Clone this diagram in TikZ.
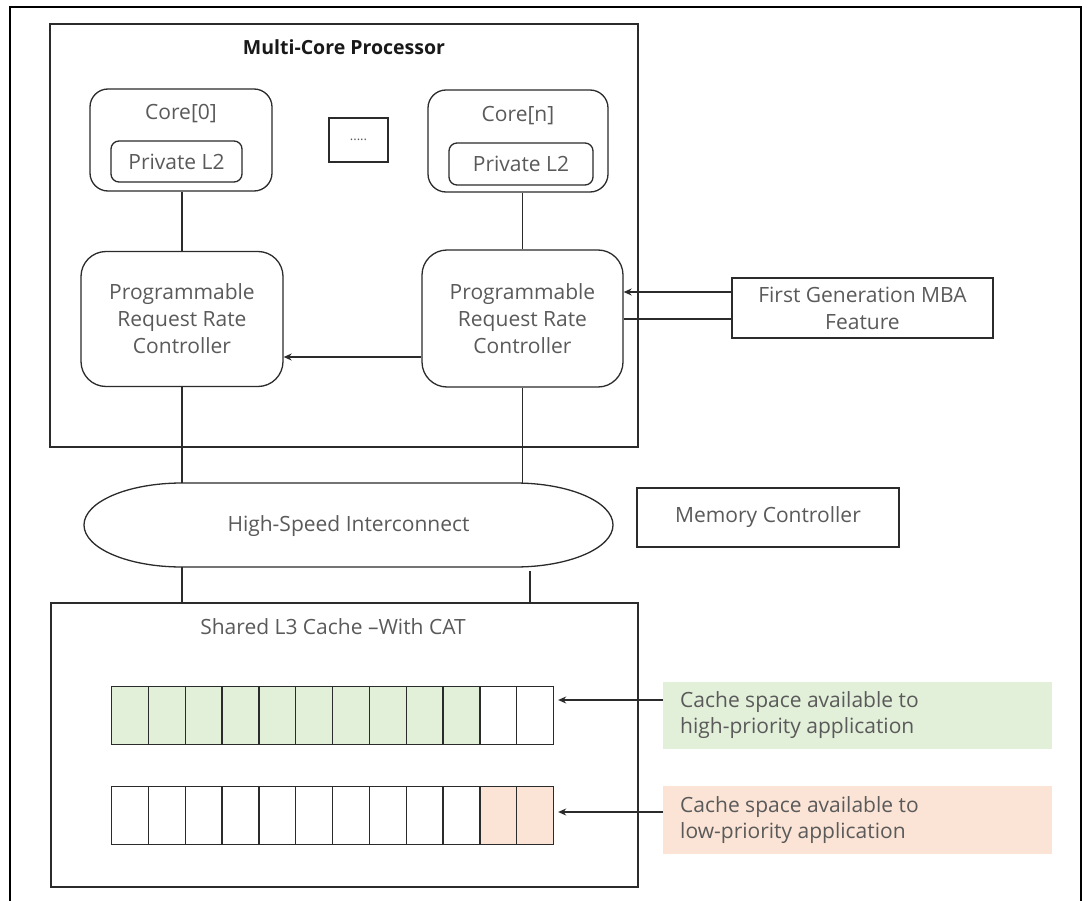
\documentclass[tikz,border=0pt]{standalone}
\usepackage{fontspec}
\setmainfont{Open Sans}
\usetikzlibrary{arrows.meta,calc}
\definecolor{txt}{HTML}{5A5A5A}
\definecolor{ln}{HTML}{2B2B2B}
\definecolor{gfill}{HTML}{E2EFD9}
\definecolor{ofill}{HTML}{FBE4D5}
\begin{document}
\begin{tikzpicture}[x=1pt,y=-1pt,
  box/.style={draw=ln,line width=1.3pt,inner sep=0pt},
  rbox/.style={box,rounded corners=#1},
  rbox/.default=18pt,
  lbl/.style={text=txt,font=\fontsize{21}{27}\selectfont,align=center,inner sep=0pt},
  conn/.style={draw=ln,line width=1.3pt},
  arr/.style={conn,-{Stealth[length=8pt,width=7pt]}},
  cell/.style={draw=ln,line width=1.2pt,minimum width=36.83pt,minimum height=58pt,inner sep=0pt,anchor=north west}]
\useasboundingbox (0,0) rectangle (1091,901);
\fill[white] (0,0) rectangle (1091,901);
\draw[black,line width=2pt] (10,901) -- (10,7) -- (1081,7) -- (1081,901);

% processor
\node[box,line width=1.6pt,minimum width=588pt,minimum height=423pt] (proc) at (344,235.5) {};
\node[font=\bfseries\fontsize{19.5}{23}\selectfont,text=black!90,inner sep=0pt] (title) at (344,47) {Multi-Core Processor};

% cores
\node[rbox=18pt,minimum width=182pt,minimum height=102pt] (core0) at (181,140) {};
\node[lbl] (core0t) at (181,114) {Core[0]};
\node[rbox=8pt,lbl,minimum width=131pt,minimum height=41pt] (l2a) at (176.5,161.5) {Private L2};

\node[box,minimum width=59pt,minimum height=44pt,text=txt,font=\fontsize{13}{13}\selectfont] (dots) at (358.5,140) {.....};

\node[rbox=18pt,minimum width=180pt,minimum height=102pt] (coren) at (518,141) {};
\node[lbl] (corent) at (518,116) {Core[n]};
\node[rbox=8pt,lbl,minimum width=144pt,minimum height=42pt] (l2n) at (521,164) {Private L2};

% rate controllers
\node[rbox=25pt,lbl,minimum width=202pt,minimum height=135pt] (p0) at (182,319) {Programmable\\Request Rate\\Controller};
\node[rbox=25pt,lbl,minimum width=201pt,minimum height=137pt] (pn) at (522.5,318.5) {Programmable\\Request Rate\\Controller};

\draw[conn] (p0.north) -- (p0.north |- core0.south);
\draw[conn] (pn.north) -- (pn.north |- coren.south);
\draw[arr] (pn.west |- 0,357) -- (p0.east |- 0,357);

% MBA
\node[box,lbl,minimum width=261pt,minimum height=60pt] (mba) at (862.5,308) {First Generation MBA\\Feature};
\draw[arr] (mba.west |- 0,292) -- (pn.east |- 0,292);
\draw[conn] (pn.east |- 0,319) -- (mba.west |- 0,319);

% interconnect
\draw[conn] (182,483) -- (515,483) arc[start angle=90,end angle=-90,x radius=98pt,y radius=42pt] -- (182,567) arc[start angle=270,end angle=90,x radius=98pt,y radius=42pt] -- cycle;
\node[lbl] (hsi) at (348.5,526) {High-Speed Interconnect};
\coordinate (hsiT) at (0,483);
\draw[conn] (p0.south) -- (p0.south |- hsiT);
\draw[conn] (pn.south) -- (pn.south |- hsiT);

% memory controller
\node[box,lbl,minimum width=262pt,minimum height=59pt] (mc) at (768,517.5) {Memory Controller};

% L3
\node[box,line width=1.6pt,minimum width=587pt,minimum height=284pt] (l3) at (344.5,745) {};
\node[lbl] (l3t) at (333,627) {Shared L3 Cache –With CAT};
\coordinate (d1) at (182,567);
\coordinate (d2) at (530,571);
\draw[conn] (d1) -- (d1 |- l3.north);
\draw[conn] (d2) -- (d2 |- l3.north);

\foreach \i in {1,...,12} {
  \pgfmathsetmacro\xx{111+(\i-1)*36.83}
  \ifnum\i<11
    \node[cell,fill=gfill] (u\i) at (\xx,686) {};
    \node[cell,fill=white] (w\i) at (\xx,786) {};
  \else
    \node[cell,fill=white] (u\i) at (\xx,686) {};
    \node[cell,fill=ofill] (w\i) at (\xx,786) {};
  \fi
}

% labels
\node[fill=gfill,minimum width=389pt,minimum height=67pt,anchor=north west,inner sep=0pt] (gl) at (663,682) {};
\node[lbl,font=\fontsize{21}{26}\selectfont,align=left,anchor=west] (glt) at (680,715) {Cache space available to\\high-priority application};
\node[fill=ofill,minimum width=389pt,minimum height=68pt,anchor=north west,inner sep=0pt] (ol) at (663,786) {};
\node[lbl,font=\fontsize{21}{26}\selectfont,align=left,anchor=west] (olt) at (680,820) {Cache space available to\\low-priority application};

\coordinate (ua) at ([xshift=4pt]u12.east);
\coordinate (wa) at ([xshift=4pt]w12.east);
\draw[arr] (gl.west |- 0,700) -- (ua |- 0,700);
\draw[arr] (ol.west |- 0,812) -- (wa |- 0,812);
\end{tikzpicture}
\end{document}
